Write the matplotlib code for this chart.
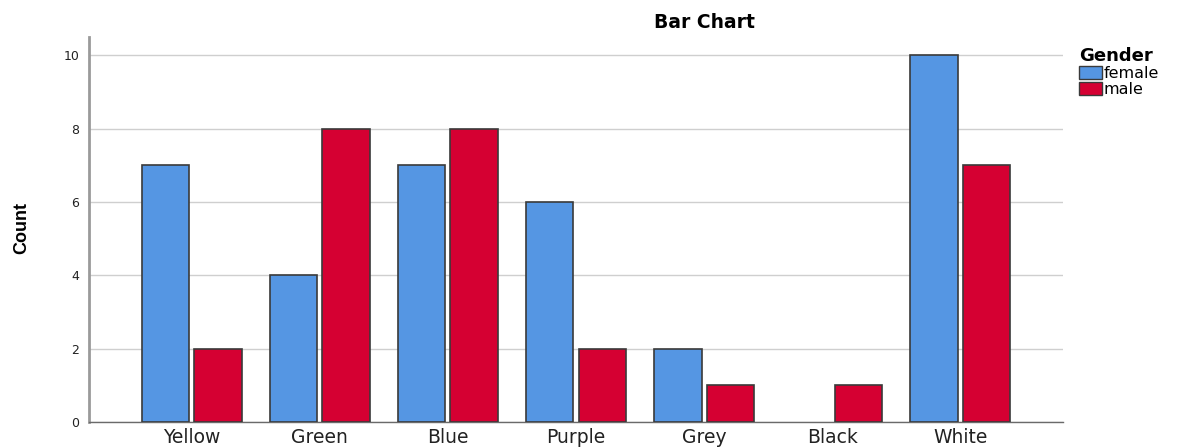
import matplotlib
matplotlib.use("Agg")
import matplotlib.pyplot as plt
import numpy as np
from matplotlib.patches import Patch

plt.rcParams["font.family"] = ["DejaVu Sans"]

colors_cat = ["Yellow", "Green", "Blue", "Purple", "Grey", "Black", "White"]
female = [7, 4, 7, 6, 2, 0, 10]
male = [2, 8, 8, 2, 1, 1, 7]

female_color = "#5596e3"
male_color = "#d50032"
edge = "#3a3a3a"

W, H = 1179, 447
fig = plt.figure(figsize=(W / 100, H / 100), dpi=100)
ax = fig.add_axes([89 / W, 25 / H, (1063 - 89) / W, (422 - 37) / H])

x = np.arange(len(colors_cat))
w = 0.37
off = 0.205
b1 = ax.bar(x - off, female, w, color=female_color, edgecolor=edge, linewidth=1.2, zorder=3)
b2 = ax.bar(x + off, male, w, color=male_color, edgecolor=edge, linewidth=1.2, zorder=3)
# SPSS leaves empty cells blank, no outline on the axis
for bar in list(b1) + list(b2):
    if bar.get_height() == 0:
        bar.set_visible(False)

ax.set_xlim(-0.8, 6.8)
ax.set_ylim(0, 10.5)
ax.set_yticks([0, 2, 4, 6, 8, 10])
ax.set_xticks(x)
ax.set_xticklabels(colors_cat, fontsize=13.5, color="#222222")
ax.tick_params(axis="y", labelsize=9, length=0, pad=7, labelcolor="#222222")
ax.tick_params(axis="x", length=0, pad=4)
ax.yaxis.grid(True, color="#cfcfcf", linewidth=1, zorder=0)
ax.set_axisbelow(True)

for s in ["top", "right"]:
    ax.spines[s].set_visible(False)
ax.spines["left"].set_color("#9a9a9a")
ax.spines["left"].set_linewidth(2)
ax.spines["bottom"].set_color("#6a6a6a")
ax.spines["bottom"].set_linewidth(1)

fig.text(22 / W, 1 - 228 / H, "Count", rotation=90, ha="center", va="center",
         fontsize=13, fontweight="bold", family=["Liberation Sans", "DejaVu Sans"])
fig.text(704 / W, 1 - 23 / H, "Bar Chart", ha="center", va="center",
         fontsize=13.5, fontweight="bold")

handles = [Patch(facecolor=female_color, edgecolor=edge, label="female"),
           Patch(facecolor=male_color, edgecolor=edge, label="male")]
leg = fig.legend(handles=handles, title="Gender", loc="upper left",
                 bbox_to_anchor=(1068 / W, 1 - 36 / H), frameon=False,
                 fontsize=11.5, handlelength=1.45, handleheight=0.9,
                 handletextpad=0.1, labelspacing=0.05, borderpad=0.2)
leg.get_title().set_fontweight("bold")
leg.get_title().set_fontsize(13)
leg._legend_box.align = "left"

fig.savefig("out.png", dpi=100)
